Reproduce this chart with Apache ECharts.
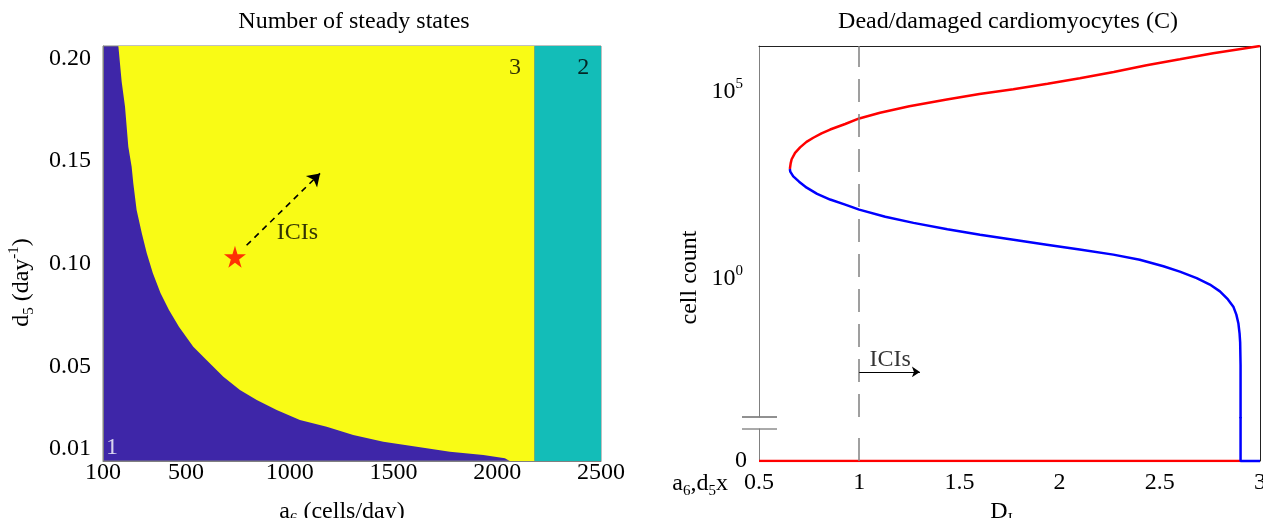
<!DOCTYPE html>
<html>
<head>
<meta charset="utf-8">
<script src="https://cdn.jsdelivr.net/npm/echarts@6.0.0/dist/echarts.min.js"></script>
<style>
  html, body { margin: 0; padding: 0; background: #fff; }
  #chart { width: 1263px; height: 518px; }
</style>
</head>
<body>
<div id="chart"></div>
<script>
// ---- left panel: number of steady states over (a6, d5) ----
// purple/yellow boundary (1 -> 3 steady states)
const boundaryA6 = [174, 190, 206, 222, 238, 246, 262, 287, 311, 340, 377, 418, 466, 535, 600, 680, 760, 841, 937, 1049, 1178, 1306, 1451, 1612, 1772, 1933, 2037, 2060, 2180];
const boundaryD5 = [0.206, 0.1886, 0.1765, 0.157, 0.1472, 0.1392, 0.1262, 0.1148, 0.1051, 0.0955, 0.0858, 0.0775, 0.0693, 0.0596, 0.0531, 0.045, 0.0385, 0.0337, 0.0288, 0.0239, 0.0207, 0.0166, 0.0134, 0.0109, 0.0085, 0.0069, 0.0053, 0.004, 0.004];
// teal band (2 steady states)
const tealA6 = [2180, 2500];
const tealD5 = [0.206, 0.206];
const starPoint = [736, 0.1034];
const arrowLeft = [[792, 0.109], [1146, 0.144]];
const regionNames = ['3', '2'];
const regionA6 = [2085, 2415];
const regionD5 = [0.1953, 0.1953];
const regionOne = { name: '1', a6: 143, d5: 0.0103 };
const iciLeft = { name: 'ICIs', a6: 1037, d5: 0.1152 };
const xTicksLeft = [100, 500, 1000, 1500, 2000, 2500];
const yTicksLeft = [0.01, 0.05, 0.10, 0.15, 0.20];

// ---- right panel: dead/damaged cardiomyocytes vs D_I ----
const upperD = [0.654, 0.658, 0.663, 0.68, 0.705, 0.737, 0.771, 0.812, 0.855, 0.93, 1.0, 1.104, 1.25, 1.437, 1.6, 1.769, 1.94, 2.101, 2.27, 2.434, 2.6, 2.766, 2.88, 3.0];
const upperC = [850, 1200, 1550, 2300, 3200, 4500, 5800, 7600, 9600, 13500, 19000, 27000, 40000, 61000, 85000, 115000, 160000, 225000, 330000, 500000, 720000, 1050000, 1300000, 1630000];
const lowerD = [0.654, 0.656, 0.671, 0.7, 0.738, 0.79, 0.855, 0.93, 1.0, 1.13, 1.271, 1.44, 1.603, 1.77, 1.936, 2.1, 2.268, 2.4, 2.518, 2.6, 2.684, 2.75, 2.8, 2.84, 2.867, 2.882, 2.892, 2.898, 2.901, 2.903, 2.903, 2.903];
const lowerC = [850, 720, 540, 390, 270, 185, 130, 95, 70, 45, 31, 21, 15, 11, 8.1, 6.0, 4.4, 3.2, 2.15, 1.55, 1.04, 0.7, 0.46, 0.28, 0.18, 0.11, 0.065, 0.035, 0.02, 0.005, 0.0005, 0.00005];
// zero branch (drawn in the small linear panel under the axis break)
const zeroRedD = [0.5, 2.903];
const zeroRedC = [0, 0];
const zeroBlueD = [2.903, 2.903, 3.0];
const zeroBlueC = [1.375, 0, 0];
const iciRight = { name: 'ICIs', d: 1.154, c: 0.0068 };
const arrowRight = [[1.0, 0.00326], [1.303, 0.00326]];
const xTicksRight = [0.5, 1, 1.5, 2, 2.5, 3];
const yTicksRight = [1, 100000];

const FONT = '"Liberation Serif", "Times New Roman", serif';
const zip = (a, b) => a.map((v, i) => [v, b[i]]);
const rich = {
  t: { fontSize: 24, fontFamily: FONT, color: '#000' },
  sub: { fontSize: 15, fontFamily: FONT, color: '#000', verticalAlign: 'bottom', lineHeight: 30 },
  sup: { fontSize: 15, fontFamily: FONT, color: '#000', verticalAlign: 'top', lineHeight: 30 }
};
const txt = { fontSize: 24, fontFamily: FONT, color: '#000' };
const STAR = 'path://M50,0 L61,35 L98,35 L68,57 L79,91 L50,70 L21,91 L32,57 L2,35 L39,35 Z';

// right panel layout (axis break between the log part and the zero line)
const R_LEFT = 759, R_WIDTH = 501, R_TOP = 46, R_BREAK_TOP = 417, R_BREAK_BOTTOM = 429, R_BOTTOM = 461;

const chart = echarts.init(document.getElementById('chart'));

const option = {
  animation: false,
  backgroundColor: '#fff',
  title: [
    { text: 'Number of steady states', left: 354, top: 10, padding: 0, textAlign: 'center',
      textStyle: { fontFamily: FONT, fontSize: 24, fontWeight: 'normal', color: '#000' } },
    { text: 'Dead/damaged cardiomyocytes (C)', left: 1008, top: 10, padding: 0, textAlign: 'center',
      textStyle: { fontFamily: FONT, fontSize: 24, fontWeight: 'normal', color: '#000' } }
  ],
  grid: [
    { left: 103, top: 46, width: 498, height: 415, show: true, backgroundColor: '#3e26a8',
      borderColor: '#808080', borderWidth: 1, outerBoundsMode: 'none' },
    { left: R_LEFT, top: R_TOP, width: R_WIDTH, height: R_BREAK_TOP - R_TOP, outerBoundsMode: 'none' },
    { left: R_LEFT, top: R_BREAK_BOTTOM, width: R_WIDTH, height: R_BOTTOM - R_BREAK_BOTTOM, outerBoundsMode: 'none' },
    { left: R_LEFT, top: R_TOP, width: R_WIDTH, height: R_BOTTOM - R_TOP, outerBoundsMode: 'none' }
  ],
  xAxis: [
    { gridIndex: 0, type: 'value', min: 100, max: 2500,
      axisLine: { show: true, lineStyle: { color: '#808080' } }, axisTick: { show: false }, splitLine: { show: false },
      axisLabel: Object.assign({ customValues: xTicksLeft, margin: 0, formatter: v => String(v) }, txt),
      name: '{t|a}{sub|6}{t| (cells/day)}', nameLocation: 'middle', nameGap: 36,
      nameTextStyle: { rich: rich, padding: [0, 20, 0, 0] } },
    { gridIndex: 1, type: 'value', min: 0.5, max: 3, show: false },
    { gridIndex: 2, type: 'value', min: 0.5, max: 3,
      axisLine: { show: false }, axisTick: { show: false }, splitLine: { show: false },
      axisLabel: Object.assign({ customValues: xTicksRight, margin: 10 }, txt),
      name: '{t|D}{sub|I}', nameLocation: 'middle', nameGap: 36, nameTextStyle: { rich: rich, padding: [0, 16, 0, 0] } },
    { gridIndex: 3, type: 'value', min: 0.5, max: 3, position: 'top',
      axisLine: { show: true, onZero: false, lineStyle: { color: '#222' } }, axisTick: { show: false },
      axisLabel: { show: false }, splitLine: { show: false } }
  ],
  yAxis: [
    { gridIndex: 0, type: 'value', min: 0.004, max: 0.206,
      axisLine: { show: true, lineStyle: { color: '#808080' } }, axisTick: { show: false }, splitLine: { show: false },
      axisLabel: Object.assign({ customValues: yTicksLeft, margin: 12, formatter: v => v.toFixed(2) }, txt),
      name: '{t|d}{sub|5}{t| (day}{sup|-1}{t|)}', nameLocation: 'middle', nameGap: 66, nameRotate: 90,
      nameTextStyle: { rich: rich, padding: [0, 58, 0, 0] } },
    { gridIndex: 1, type: 'log', min: 2.04e-4, max: 1.63e6,
      axisLine: { show: true, lineStyle: { color: '#808080' } }, axisTick: { show: false }, splitLine: { show: false },
      axisLabel: { customValues: yTicksRight, margin: 16,
        formatter: v => '{b|10}{s|' + Math.round(Math.log10(v)) + '}',
        rich: { b: { fontSize: 24, fontFamily: FONT, color: '#000' },
                s: { fontSize: 15, fontFamily: FONT, color: '#000', verticalAlign: 'top', lineHeight: 30 } } } },
    { gridIndex: 2, type: 'value', min: 0, max: 1,
      axisLine: { show: true, lineStyle: { color: '#808080' } }, axisTick: { show: false }, splitLine: { show: false },
      axisLabel: Object.assign({ customValues: [0], margin: 12 }, txt),
      name: '{t|a}{sub|6}{t|,d}{sub|5}{t|x}', nameLocation: 'start', nameGap: 8,
      nameTextStyle: { rich: rich, align: 'right', verticalAlign: 'top', padding: [0, 31, 0, 0] } },
    { gridIndex: 3, type: 'value', min: 0, max: 1, position: 'right',
      axisLine: { show: true, onZero: false, lineStyle: { color: '#222' } }, axisTick: { show: false },
      axisLabel: { show: false }, splitLine: { show: false } },
    { gridIndex: 3, type: 'value', min: 0, max: 1, position: 'left',
      axisLine: { show: false }, axisTick: { show: false }, axisLabel: { show: false }, splitLine: { show: false },
      name: 'cell count', nameLocation: 'middle', nameGap: 57,
      nameTextStyle: Object.assign({ padding: [0, 48, 0, 0] }, txt) }
  ],
  graphic: [
    { type: 'line', shape: { x1: R_LEFT - 17, y1: R_BREAK_TOP, x2: R_LEFT + 18, y2: R_BREAK_TOP },
      style: { stroke: '#222', lineWidth: 1 } },
    { type: 'line', shape: { x1: R_LEFT - 17, y1: R_BREAK_BOTTOM, x2: R_LEFT + 18, y2: R_BREAK_BOTTOM },
      style: { stroke: '#555', lineWidth: 1 } }
  ],
  series: [
    // left panel regions
    { type: 'line', xAxisIndex: 0, yAxisIndex: 0, data: zip(boundaryA6, boundaryD5),
      showSymbol: false, lineStyle: { width: 0 }, areaStyle: { color: '#f9fb15', opacity: 1, origin: 'end' } },
    { type: 'line', xAxisIndex: 0, yAxisIndex: 0, data: zip(tealA6, tealD5),
      showSymbol: false, lineStyle: { width: 0 }, areaStyle: { color: '#13bdb8', opacity: 1, origin: 'start' } },
    { type: 'scatter', xAxisIndex: 0, yAxisIndex: 0, data: [starPoint],
      symbol: STAR, symbolSize: 22, itemStyle: { color: '#ff0000' }, z: 5 },
    { type: 'lines', coordinateSystem: 'cartesian2d', xAxisIndex: 0, yAxisIndex: 0,
      data: [{ coords: arrowLeft }], symbol: ['none', 'arrow'], symbolSize: 12,
      lineStyle: { color: '#000', width: 1.6, type: [6, 5], opacity: 1 }, z: 5 },
    { type: 'scatter', xAxisIndex: 0, yAxisIndex: 0,
      data: regionNames.map((n, i) => ({ name: n, value: [regionA6[i], regionD5[i]] }))
        .concat([{ name: iciLeft.name, value: [iciLeft.a6, iciLeft.d5] }]),
      symbolSize: 1, itemStyle: { color: 'transparent' },
      label: Object.assign({ show: true, position: 'inside', formatter: '{b}' }, txt), z: 6 },
    { type: 'scatter', xAxisIndex: 0, yAxisIndex: 0,
      data: [{ name: regionOne.name, value: [regionOne.a6, regionOne.d5] }],
      symbolSize: 1, itemStyle: { color: 'transparent' },
      label: Object.assign({}, txt, { show: true, position: 'inside', formatter: '{b}', color: '#fff' }), z: 6 },

    // right panel, log part
    { type: 'line', xAxisIndex: 1, yAxisIndex: 1, data: [],
      markLine: { silent: true, symbol: 'none', label: { show: false },
        lineStyle: { color: '#808080', width: 1.5, type: [23, 12] }, data: [{ xAxis: 1 }] } },
    { type: 'line', xAxisIndex: 1, yAxisIndex: 1, data: zip(upperD, upperC),
      showSymbol: false, lineStyle: { color: '#ff0000', width: 2.5 }, z: 4 },
    { type: 'line', xAxisIndex: 1, yAxisIndex: 1, data: zip(lowerD, lowerC),
      showSymbol: false, lineStyle: { color: '#0000ff', width: 2.5 }, z: 4 },
    { type: 'lines', coordinateSystem: 'cartesian2d', xAxisIndex: 1, yAxisIndex: 1,
      data: [{ coords: arrowRight }], symbol: ['none', 'arrow'], symbolSize: 8,
      lineStyle: { color: '#000', width: 1, opacity: 1 }, z: 5 },
    { type: 'scatter', xAxisIndex: 1, yAxisIndex: 1,
      data: [{ name: iciRight.name, value: [iciRight.d, iciRight.c] }],
      symbolSize: 1, itemStyle: { color: 'transparent' },
      label: Object.assign({ show: true, position: 'inside', formatter: '{b}' }, txt), z: 6 },

    // right panel, zero line
    { type: 'line', xAxisIndex: 2, yAxisIndex: 2, data: [],
      markLine: { silent: true, symbol: 'none', label: { show: false },
        lineStyle: { color: '#808080', width: 1.5, type: [23, 12] }, data: [{ xAxis: 1 }] } },
    { type: 'line', xAxisIndex: 2, yAxisIndex: 2, data: zip(zeroRedD, zeroRedC),
      showSymbol: false, lineStyle: { color: '#ff0000', width: 2.5 }, z: 4 },
    { type: 'line', xAxisIndex: 2, yAxisIndex: 2, data: zip(zeroBlueD, zeroBlueC), clip: false,
      showSymbol: false, lineStyle: { color: '#0000ff', width: 2.5 }, z: 4 }
  ]
};

chart.setOption(option);
</script>
</body>
</html>
